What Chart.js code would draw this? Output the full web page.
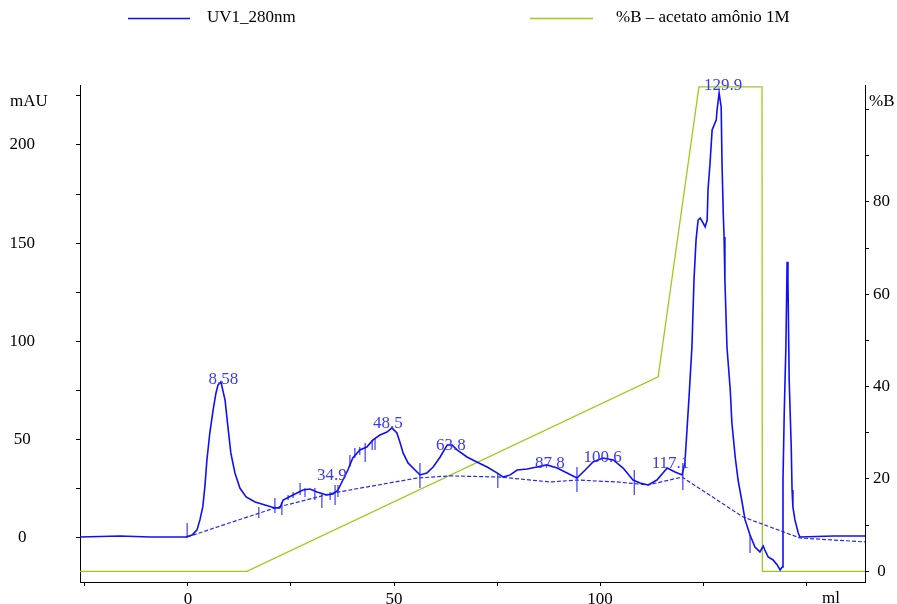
<!DOCTYPE html>
<html>
<head>
<meta charset="utf-8">
<script src="https://cdn.jsdelivr.net/npm/chart.js@4/dist/chart.umd.min.js"></script>
<style>
html,body{margin:0;padding:0;background:#fff;}
#wrap{width:897px;height:604px;position:relative;}
</style>
</head>
<body>
<div id="wrap"><canvas id="c" width="897" height="604"></canvas></div>
<script>
// ---- data (ml, mAU) ----
const uvX = [-26.2,-16.5,-9.2,-0.5,1.0,2.2,2.9,3.6,4.1,4.6,5.3,6.1,6.8,7.3,8.0,9.0,9.7,10.4,11.4,12.6,14.1,16.3,18.7,21.1,22.3,23.1,25.5,27.9,29.6,31.3,33.7,35.2,36.4,37.6,38.8,40.0,41.7,43.4,44.9,46.6,48.3,49.5,50.7,51.5,52.2,53.4,55.1,56.3,58.0,59.5,61.2,62.9,64.1,65.3,67.7,70.1,72.6,75.0,76.5,78.2,79.9,82.3,84.7,87.1,89.6,92.0,94.4,96.4,98.3,100.7,103.2,105.6,108.0,109.7,111.7,113.8,116.3,118.2,119.9,120.6,121.1,121.6,122.3,122.8,123.3,123.8,124.3,125.0,125.5,126.0,126.2,126.7,127.2,127.7,128.2,128.4,128.9,129.4,129.6,129.9,130.1,130.3,130.8,131.6,132.0,132.8,133.5,134.5,135.2,136.4,137.6,138.8,139.6,140.0,140.8,142.0,143.0,143.7,144.2,144.4,144.7,145.1,145.4,145.6,145.9,146.4,146.6,146.8,147.3,148.1,148.5,156.6,164.3];
const uvY = [0.5,1.0,0.5,0.5,1.5,4.1,9.2,15.8,26.0,39.7,53.4,65.1,73.8,77.9,79.4,70.2,56.5,43.3,33.1,25.4,20.9,18.3,16.8,15.3,15.3,19.3,21.9,24.4,24.9,23.4,21.9,22.4,24.4,29.5,34.6,40.7,44.8,46.3,49.9,52.4,53.9,56.0,53.4,48.3,43.3,38.2,34.6,32.1,33.1,36.1,41.2,47.3,47.3,44.8,41.2,38.7,36.1,33.1,31.0,32.1,34.6,35.1,36.1,37.2,35.6,33.1,30.5,34.6,38.7,40.7,39.7,35.6,29.5,28.0,27.0,29.5,35.6,33.6,32.1,38.2,55.0,71.8,97.2,131.3,151.7,161.8,162.8,160.3,158.3,161.8,177.1,190.8,207.6,210.2,212.7,217.8,226.5,219.3,190.8,165.4,153.2,131.3,97.2,75.3,58.5,41.2,29.5,17.8,9.2,1.5,-4.6,-7.1,-4.1,-6.1,-9.7,-11.2,-13.7,-16.3,-14.8,29.5,63.6,97.2,140.5,131.3,80.4,46.3,24.4,15.8,9.2,2.5,0.5,1.0,1.0];

// integration baseline (dashed)
const baseX = [-0.2,21.1,35.2,55.6,63.6,75.7,87.9,94.4,104.1,111.7,119.9,134.7,148.5,164.3];
const baseY = [0.5,15.3,22.9,30.5,31.6,31.0,28.5,29.5,28.5,27.0,31.0,10.7,0.0,-2.0];

// peak delimiter marks
const markX  = [-0.2,17.2,21.1,22.8,24.3,25.5,27.2,28.4,30.8,32.5,34.5,35.7,36.4,39.3,40.5,41.7,43.0,44.7,45.4,56.3,75.2,94.4,108.3,120.1,136.4];
const markLo = [0.0,10.2,12.7,11.7,19.3,20.4,21.9,20.9,19.3,15.3,19.3,16.8,20.9,36.1,40.7,42.2,38.7,44.8,44.8,25.4,25.4,23.4,21.9,24.4,-7.6];
const markHi = [7.6,15.8,20.4,18.3,21.9,23.4,28.0,25.4,25.4,22.9,23.4,27.0,27.0,42.2,45.8,46.3,48.3,49.9,50.9,38.2,33.1,36.1,34.6,38.2,1.5];

// %B gradient (ml, %B)
const gradX = [-26.2,14.3,114.1,124.0,139.3,139.4,164.3];
const gradY = [0,0,42.1,104.9,104.9,0,0];

// peak labels
const peakText = ['8.58','34.9','48.5','63.8','87.8','100.6','117.1','129.9'];
const peakX    = [8.58,34.9,48.5,63.8,87.8,100.6,117.1,129.9];
const peakLabY = [78.4,29.5,56.0,44.8,35.6,38.7,35.6,228.0];

// tick labels
const xTickLabels  = [0,50,100];
const yTickLabels  = [0,50,100,150,200];
const y2TickLabels = [0,20,40,60,80];

const legendItems = ['UV1_280nm','%B – acetato amônio 1M'];

const BLUE = '#0f0ff8';
const GREEN = '#9ccc1a';
const FONT = 'Liberation Serif';

const pts = (xs, ys) => xs.map((x, i) => ({x, y: ys[i]}));
const markPts = [];
markX.forEach((x, i) => { markPts.push({x, y: markLo[i]}, {x, y: markHi[i]}, {x, y: null}); });

const annot = {
  id: 'annot',
  beforeDraw(chart) {
    const ctx = chart.ctx;
    ctx.save();
    ctx.fillStyle = '#fff';
    ctx.fillRect(0, 0, chart.width, chart.height);
    ctx.restore();
  },
  afterDraw(chart) {
    const ctx = chart.ctx, xs = chart.scales.x, ys = chart.scales.y;
    ctx.save();
    // peak labels
    ctx.font = '17px "' + FONT + '"';
    ctx.fillStyle = '#3a3af2';
    ctx.textAlign = 'center';
    ctx.textBaseline = 'alphabetic';
    peakText.forEach((t, i) => {
      ctx.fillText(t, xs.getPixelForValue(peakX[i]), ys.getPixelForValue(peakLabY[i]));
    });
    // axis titles
    ctx.fillStyle = '#000';
    ctx.textBaseline = 'middle';
    ctx.textAlign = 'left';
    ctx.fillText('mAU', 10, 102);
    ctx.fillText('%B', 869, 102);
    ctx.fillText('ml', 822, 599);
    // legend
    ctx.lineWidth = 1.5;
    ctx.strokeStyle = BLUE;
    ctx.beginPath(); ctx.moveTo(128, 18.5); ctx.lineTo(190, 18.5); ctx.stroke();
    ctx.strokeStyle = GREEN;
    ctx.beginPath(); ctx.moveTo(530, 18.5); ctx.lineTo(593, 18.5); ctx.stroke();
    ctx.fillStyle = '#000';
    ctx.fillText(legendItems[0], 207, 18);
    ctx.fillText(legendItems[1], 616, 18);
    ctx.restore();
  }
};

const tickFont = {family: FONT, size: 17};
const fixV = w => s => { s.width = w; s.paddingTop = 0; s.paddingBottom = 0; };

new Chart(document.getElementById('c'), {
  type: 'line',
  data: {
    datasets: [
      {label: 'UV', data: pts(uvX, uvY), borderColor: BLUE, borderWidth: 1.6, pointRadius: 0, tension: 0, yAxisID: 'y'},
      {label: 'marks', data: markPts, borderColor: '#2a2af5', borderWidth: 1.1, pointRadius: 0, spanGaps: false, yAxisID: 'y'},
      {label: 'base', data: pts(baseX, baseY), borderColor: '#2a2af5', borderWidth: 1.2, borderDash: [4, 2], pointRadius: 0, tension: 0, yAxisID: 'y'},
      {label: '%B', data: pts(gradX, gradY), borderColor: GREEN, borderWidth: 1.3, pointRadius: 0, tension: 0, yAxisID: 'y2'}
    ]
  },
  options: {
    responsive: false,
    animation: false,
    events: [],
    layout: {padding: {top: 85, left: 0, right: 0, bottom: 0}},
    plugins: {legend: {display: false}, tooltip: {enabled: false}},
    scales: {
      x: {
        type: 'linear', position: 'bottom', min: -26.2, max: 164.3,
        afterFit(s) { s.height = 22; s.paddingLeft = 0; s.paddingRight = 0; },
        grid: {drawOnChartArea: false, tickLength: 4, tickColor: '#000', tickWidth: 1},
        border: {color: '#000', width: 1},
        ticks: {stepSize: 25, includeBounds: false, autoSkip: false, maxRotation: 0, padding: 3, color: '#000', font: tickFont,
          callback: v => xTickLabels.includes(v) ? String(v) : ''}
      },
      y: {
        type: 'linear', position: 'left', min: -22.4, max: 230.5,
        afterFit: fixV(80),
        grid: {drawOnChartArea: false, tickLength: 4, tickColor: '#000'},
        border: {color: '#000', width: 1},
        ticks: {stepSize: 25, includeBounds: false, autoSkip: false, padding: 41, crossAlign: 'center', color: '#000', font: tickFont,
          callback: v => yTickLabels.includes(v) ? String(v) : ''}
      },
      y2: {
        type: 'linear', position: 'right', min: -2.3, max: 105.3,
        afterFit: fixV(32),
        grid: {drawOnChartArea: false, tickLength: 4, tickColor: '#000'},
        border: {color: '#000', width: 1},
        ticks: {stepSize: 10, includeBounds: false, autoSkip: false, padding: 4, crossAlign: 'center', color: '#000', font: tickFont,
          callback: v => y2TickLabels.includes(v) ? String(v) : ''}
      }
    }
  },
  plugins: [annot]
});
</script>
</body>
</html>
